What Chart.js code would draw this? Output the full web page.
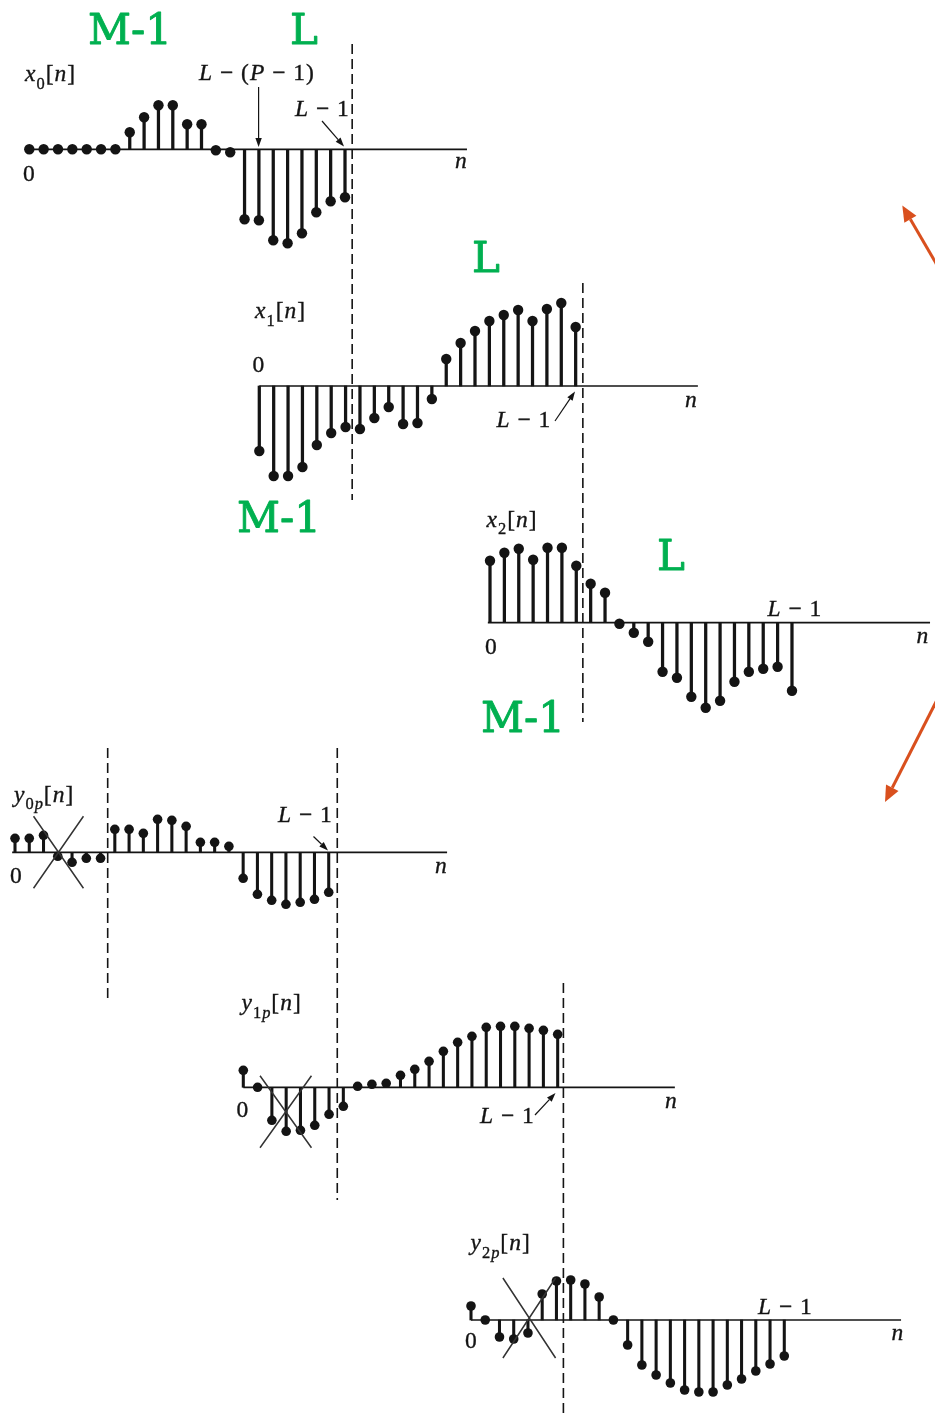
<!DOCTYPE html>
<html>
<head>
<meta charset="utf-8">
<title>Overlap-save block sequences</title>
<script src="https://cdn.jsdelivr.net/npm/chart.js@4.4.1/dist/chart.umd.min.js"></script>
<style>
  html, body { margin: 0; padding: 0; background: #fff; }
  #page { position: relative; width: 935px; height: 1418px; overflow: hidden; }
  #page canvas { position: absolute; left: 0; top: 0; }
</style>
</head>
<body>
<div id="page"></div>
<script>
const PAGE_W = 935, PAGE_H = 1418;
const INK = '#141414';
const GREEN = '#00B050';
const RED = '#D9501E';

// input blocks x_r[n]
const x0Values = [0, 0, 0, 0, 0, 0, 0, 17, 32, 44, 44, 25, 25, -1, -3, -70, -71, -91, -94, -84, -63, -52, -48];
const x1Values = [-65, -90, -90, -81, -59, -47, -41, -43, -32, -21, -38, -37, -13, 27, 43, 55, 65, 71, 76, 65, 77, 83, 59];
const x2Values = [62, 70, 74, 63, 75, 75, 57, 39, 30, -1, -10, -19, -49, -55, -74, -85, -78, -59, -49, -46, -44, -68];

// circular convolution outputs y_rp[n]
const y0pValues = [14, 14, 17, -4, -10, -6, -6, 23, 23, 19, 33, 32, 26, 10, 10, 6, -26, -42, -48, -52, -50, -47, -40];
const y1pValues = [17, 0, -33, -44, -43, -38, -27, -19, 1, 3, 4, 12, 18, 26, 36, 45, 51, 60, 61, 61, 59, 57, 53];
const y2pValues = [14, 0, -17, -19, -13, 26, 39, 40, 36, 23, 0, -25, -45, -55, -63, -70, -72, -72, -65, -59, -51, -44, -36];

// rich text pieces: [text, style]  style: r roman, i italic, s subscript, si italic subscript
const seqName = (sym, sub) => [[sym, 'i'], ...sub, ['[', 'r'], ['n', 'i'], [']', 'r']];
const L_MINUS_1 = [['L', 'i'], [' \u2212 1', 'r']];
const L_MINUS_P = [['L', 'i'], [' \u2212 (', 'r'], ['P', 'i'], [' \u2212 1)', 'r']];
const ZERO = [['0', 'r']];
const N_AXIS = [['n', 'i']];

const panels = [
  {
    values: x0Values, origin: [29.3, 149.3], dx: 14.35, axis: [-0.3, 30.5], dot: 5.2, stem: 2.6,
    dashes: [[22.5, 44, 500]],
    labels: [
      { parts: seqName('x', [['0', 's']]), x: 25, y: 81 },
      { parts: ZERO, x: 23, y: 181 },
      { parts: N_AXIS, x: 455, y: 168 },
      { parts: L_MINUS_P, x: 199, y: 80 },
      { parts: L_MINUS_1, x: 295, y: 116 }
    ],
    arrows: [[258.6, 87, 258.6, 147], [322, 121, 344, 146.5]]
  },
  {
    values: x1Values, origin: [259.3, 386], dx: 14.38, axis: [0, 30.5], dot: 5.2, stem: 2.6,
    dashes: [[22.5, 283, 722]],
    labels: [
      { parts: seqName('x', [['1', 's']]), x: 255, y: 318 },
      { parts: ZERO, x: 252.5, y: 371.5 },
      { parts: N_AXIS, x: 685, y: 406.5 },
      { parts: L_MINUS_1, x: 496.5, y: 426.5 }
    ],
    arrows: [[555, 421, 575, 391.5]]
  },
  {
    values: x2Values, origin: [490, 622.7], dx: 14.38, axis: [-0.15, 30.6], dot: 5.2, stem: 2.6,
    dashes: [],
    labels: [
      { parts: seqName('x', [['2', 's']]), x: 486.5, y: 526.5 },
      { parts: ZERO, x: 485, y: 654 },
      { parts: N_AXIS, x: 916.5, y: 643 },
      { parts: L_MINUS_1, x: 767.5, y: 616 }
    ],
    arrows: []
  },
  {
    values: y0pValues, origin: [15, 852.3], dx: 14.26, axis: [-0.2, 30.3], dot: 4.8, stem: 2.4,
    dashes: [[6.5, 748, 998], [22.6, 748, 1200]],
    cross: { n: 3.05, v: 0, hw: 1.75, hh: 36 },
    labels: [
      { parts: seqName('y', [['0', 's'], ['p', 'si']]), x: 14, y: 801.5 },
      { parts: ZERO, x: 10, y: 882.5 },
      { parts: N_AXIS, x: 435, y: 873 },
      { parts: L_MINUS_1, x: 278, y: 821.5 }
    ],
    arrows: [[313.5, 836.5, 328, 850.5]]
  },
  {
    values: y1pValues, origin: [243.3, 1087.3], dx: 14.29, axis: [0, 30.2], dot: 4.8, stem: 2.4,
    dashes: [[22.4, 983, 1418]],
    cross: { n: 2.97, v: -24.4, hw: 1.8, hh: 36 },
    labels: [
      { parts: seqName('y', [['1', 's'], ['p', 'si']]), x: 241.5, y: 1010 },
      { parts: ZERO, x: 236.5, y: 1116.5 },
      { parts: N_AXIS, x: 665, y: 1108 },
      { parts: L_MINUS_1, x: 480, y: 1123 }
    ],
    arrows: [[535, 1115, 555.5, 1093]]
  },
  {
    values: y2pValues, origin: [471, 1320], dx: 14.24, axis: [0, 30.2], dot: 4.8, stem: 2.4,
    dashes: [],
    cross: { n: 4.09, v: 2, hw: 1.85, hh: 40 },
    labels: [
      { parts: seqName('y', [['2', 's'], ['p', 'si']]), x: 470.5, y: 1250 },
      { parts: ZERO, x: 465, y: 1348 },
      { parts: N_AXIS, x: 891.5, y: 1340 },
      { parts: L_MINUS_1, x: 758, y: 1314 }
    ],
    arrows: []
  }
];

// block-length marks and the arrows linking the two columns of blocks
const greenNotes = [
  ['M-1', 88, 44], ['L', 290, 44],
  ['L', 472, 272], ['M-1', 237, 532],
  ['L', 657, 570], ['M-1', 481, 732]
];
const redArrows = [[937, 265, 902.3, 205.5], [937, 700, 885, 802]];

function drawRich(ctx, x, y, parts, size) {
  let cx = x;
  ctx.letterSpacing = '1px';
  for (const [txt, style] of parts) {
    const sub = style === 's' || style === 'si';
    const it = style === 'i' || style === 'si';
    const fs = sub ? size * 0.7 : size;
    ctx.font = (it ? 'italic ' : '') + fs + 'px "Liberation Serif", "DejaVu Serif", serif';
    const ty = y + (sub ? size * 0.32 : 0);
    ctx.fillText(txt, cx, ty);
    ctx.strokeText(txt, cx, ty);
    cx += ctx.measureText(txt).width;
  }
  ctx.letterSpacing = '0px';
}

function arrow(ctx, x1, y1, x2, y2, head, width, lw, color) {
  const a = Math.atan2(y2 - y1, x2 - x1);
  const bx = x2 - head * Math.cos(a), by = y2 - head * Math.sin(a);
  ctx.save();
  ctx.strokeStyle = color; ctx.fillStyle = color; ctx.lineWidth = lw;
  ctx.beginPath(); ctx.moveTo(x1, y1); ctx.lineTo(bx, by); ctx.stroke();
  ctx.beginPath();
  ctx.moveTo(x2, y2);
  ctx.lineTo(bx + width * Math.sin(a), by - width * Math.cos(a));
  ctx.lineTo(bx - width * Math.sin(a), by + width * Math.cos(a));
  ctx.closePath(); ctx.fill();
  ctx.restore();
}

function makeDecor(p, withPageNotes) {
  return {
    id: 'stemDecor',
    beforeDatasetsDraw(chart) {
      const { ctx, scales: { x, y } } = chart;
      ctx.save();
      ctx.strokeStyle = INK;
      ctx.lineWidth = 1.7;
      ctx.beginPath();
      ctx.moveTo(x.getPixelForValue(p.axis[0]), y.getPixelForValue(0));
      ctx.lineTo(x.getPixelForValue(p.axis[1]), y.getPixelForValue(0));
      ctx.stroke();
      ctx.restore();
    },
    afterDatasetsDraw(chart) {
      const { ctx, scales: { x, y } } = chart;
      ctx.save();
      // block boundaries
      ctx.strokeStyle = INK;
      ctx.lineWidth = 1.6;
      ctx.setLineDash([10, 5]);
      for (const [n, top, bottom] of p.dashes) {
        const px = x.getPixelForValue(n);
        ctx.beginPath(); ctx.moveTo(px, top); ctx.lineTo(px, bottom); ctx.stroke();
      }
      ctx.setLineDash([]);
      // samples discarded by the overlap-save step
      if (p.cross) {
        const c = p.cross;
        ctx.strokeStyle = '#333';
        ctx.lineWidth = 1.5;
        ctx.beginPath();
        ctx.moveTo(x.getPixelForValue(c.n - c.hw), y.getPixelForValue(c.v + c.hh));
        ctx.lineTo(x.getPixelForValue(c.n + c.hw), y.getPixelForValue(c.v - c.hh));
        ctx.moveTo(x.getPixelForValue(c.n + c.hw), y.getPixelForValue(c.v + c.hh));
        ctx.lineTo(x.getPixelForValue(c.n - c.hw), y.getPixelForValue(c.v - c.hh));
        ctx.stroke();
      }
      ctx.fillStyle = INK;
      ctx.strokeStyle = INK;
      ctx.lineWidth = 0.35;
      ctx.textBaseline = 'alphabetic';
      for (const l of p.labels) drawRich(ctx, l.x, l.y, l.parts, 23.5);
      for (const a of p.arrows) arrow(ctx, a[0], a[1], a[2], a[3], 9, 3.2, 1.2, INK);

      if (withPageNotes) {
        ctx.fillStyle = GREEN;
        ctx.strokeStyle = GREEN;
        ctx.lineWidth = 0.9;
        ctx.lineJoin = 'round';
        ctx.font = '42px "DejaVu Serif", serif';
        for (const [t, gx, gy] of greenNotes) {
          ctx.fillText(t, gx, gy);
          ctx.strokeText(t, gx, gy);
        }
        for (const a of redArrows) arrow(ctx, a[0], a[1], a[2], a[3], 16, 7, 3, RED);
      }
      ctx.restore();
    }
  };
}

const page = document.getElementById('page');
panels.forEach((p, i) => {
  const canvas = document.createElement('canvas');
  canvas.width = PAGE_W;
  canvas.height = PAGE_H;
  page.appendChild(canvas);

  const pts = p.values.map((v, n) => ({ x: n, y: v }));
  const [ox, oy] = p.origin;

  new Chart(canvas.getContext('2d'), {
    type: 'bar',
    data: {
      datasets: [
        { type: 'bar', data: pts, backgroundColor: INK, borderWidth: 0, barThickness: p.stem, grouped: false, order: 2 },
        { type: 'scatter', data: pts, pointRadius: p.dot, pointHoverRadius: p.dot,
          pointBackgroundColor: INK, pointBorderWidth: 0, showLine: false, order: 1 }
      ]
    },
    options: {
      responsive: false,
      animation: false,
      events: [],
      layout: { padding: 0, autoPadding: false },
      plugins: { legend: { display: false }, tooltip: { enabled: false } },
      scales: {
        x: { type: 'linear', display: false, offset: false, min: -ox / p.dx, max: (PAGE_W - ox) / p.dx },
        y: { type: 'linear', display: false, min: oy - PAGE_H, max: oy }
      }
    },
    plugins: [makeDecor(p, i === 0)]
  });
});
</script>
</body>
</html>
